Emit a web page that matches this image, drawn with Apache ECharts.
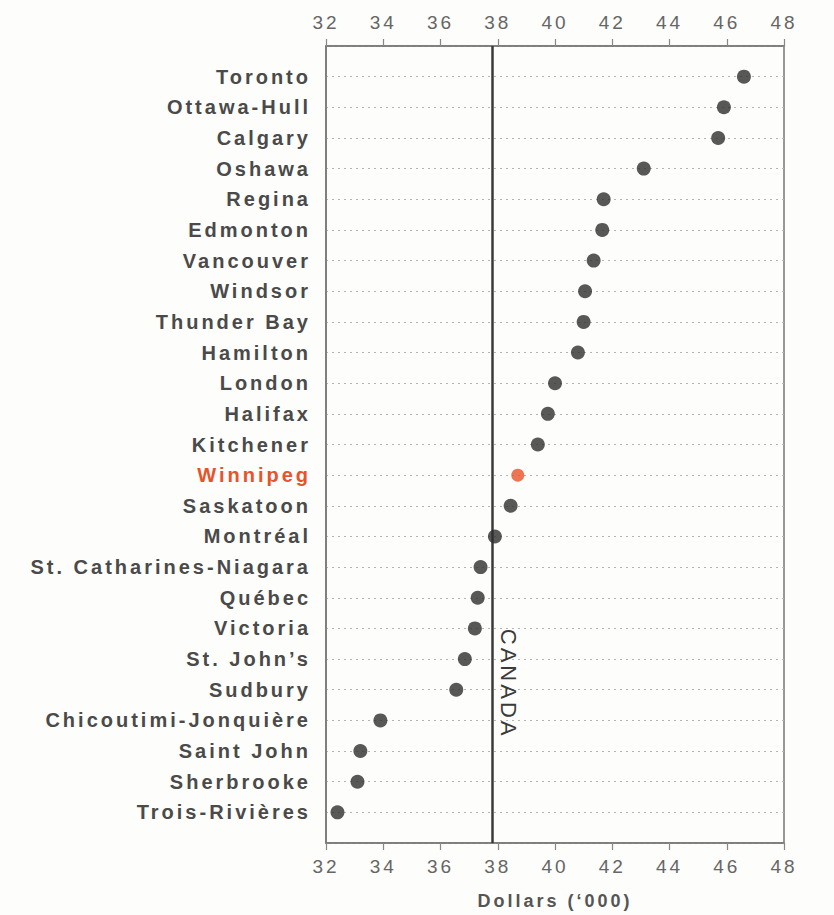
<!DOCTYPE html>
<html>
<head>
<meta charset="utf-8">
<script src="https://cdn.jsdelivr.net/npm/echarts@6/dist/echarts.min.js"></script>
<style>
  html, body { margin: 0; padding: 0; background: #fdfdfb; }
  #main { width: 834px; height: 915px; }
  #main text { letter-spacing: 3px; }
</style>
</head>
<body>
<div id="main"></div>
<script>
const cities = ['Toronto', 'Ottawa-Hull', 'Calgary', 'Oshawa', 'Regina', 'Edmonton', 'Vancouver',
  'Windsor', 'Thunder Bay', 'Hamilton', 'London', 'Halifax', 'Kitchener', 'Winnipeg', 'Saskatoon',
  'Montréal', 'St. Catharines-Niagara', 'Québec', 'Victoria', 'St. John\u2019s', 'Sudbury',
  'Chicoutimi-Jonquière', 'Saint John', 'Sherbrooke', 'Trois-Rivières'];
const values = [46.6, 45.9, 45.7, 43.1, 41.7, 41.65, 41.35, 41.05, 41.0, 40.8, 40.0, 39.75, 39.4,
  38.7, 38.45, 37.9, 37.4, 37.3, 37.2, 36.85, 36.55, 33.9, 33.2, 33.1, 32.4];
const highlightCity = 'Winnipeg';
const canadaValue = 37.8;
const canadaLabelRow = 19.8;
const xTicks = [32, 34, 36, 38, 40, 42, 44, 46, 48];
const axisTitle = "Dollars (\u2018000)";

const normalPts = [], highPts = [];
cities.forEach((c, i) => {
  if (c === highlightCity) highPts.push([values[i], i]);
  else normalPts.push([values[i], i]);
});

const chart = echarts.init(document.getElementById('main'), null, { renderer: 'svg' });
const tickLabelStyle = { fontFamily: 'Liberation Sans', fontSize: 19, color: '#666' };
const xBase = {
  type: 'value', min: xTicks[0], max: xTicks[xTicks.length - 1], interval: xTicks[1] - xTicks[0],
  axisLine: { show: true, onZero: false, lineStyle: { color: '#777', width: 1.5 } },
  axisTick: { show: true, length: 7, lineStyle: { color: '#888', width: 1.2 } },
  splitLine: { show: false }
};
chart.setOption({
  backgroundColor: '#fdfdfb',
  animation: false,
  textStyle: { fontFamily: 'Liberation Sans' },
  grid: { left: 326, right: 50, top: 46, bottom: 71, show: true, borderColor: '#777', borderWidth: 1.5 },
  xAxis: [
    Object.assign({}, xBase, {
      position: 'bottom',
      axisLabel: Object.assign({ margin: 14 }, tickLabelStyle),
      name: axisTitle, nameLocation: 'middle', nameGap: 49,
      nameTextStyle: { fontFamily: 'Liberation Sans', fontSize: 18, fontWeight: 'bold', color: '#555' }
    }),
    Object.assign({}, xBase, {
      position: 'top',
      axisLabel: Object.assign({ margin: 14 }, tickLabelStyle)
    })
  ],
  yAxis: {
    type: 'value', inverse: true, min: -1, max: cities.length, interval: 1,
    axisLine: { show: true, onZero: false, lineStyle: { color: '#777', width: 1.5 } },
    axisTick: { show: false },
    splitLine: { show: true, lineStyle: { color: '#b5b5b5', width: 1.2, type: [2, 4] } },
    axisLabel: {
      margin: 15, fontSize: 20, fontWeight: 'bold', color: '#4a4a4a',
      formatter: v => {
        const c = cities[v];
        if (c === undefined) return '';
        return c === highlightCity ? '{h|' + c + '}' : c;
      },
      rich: { h: { color: '#e8532b', fontSize: 20, fontWeight: 'bold', fontFamily: 'Liberation Sans' } }
    }
  },
  series: [
    {
      type: 'scatter', xAxisIndex: 0, data: normalPts, symbolSize: 14,
      itemStyle: { color: '#2e2e2e' }, z: 5,
      markLine: {
        silent: true, symbol: 'none',
        lineStyle: { color: '#3a3a3a', width: 2.5, type: 'solid' },
        label: { show: false },
        data: [{ xAxis: canadaValue }]
      },
      markPoint: {
        silent: true, symbol: 'circle', symbolSize: 0,
        label: {
          show: true, formatter: 'CANADA', rotate: -90, offset: [0, -16],
          fontSize: 22, color: '#3a3a3a', fontFamily: 'Liberation Sans'
        },
        data: [{ coord: [canadaValue, canadaLabelRow] }]
      }
    },
    {
      type: 'scatter', xAxisIndex: 0, data: highPts, symbolSize: 13,
      itemStyle: { color: '#e8532b' }, z: 6
    }
  ]
});
</script>
</body>
</html>
